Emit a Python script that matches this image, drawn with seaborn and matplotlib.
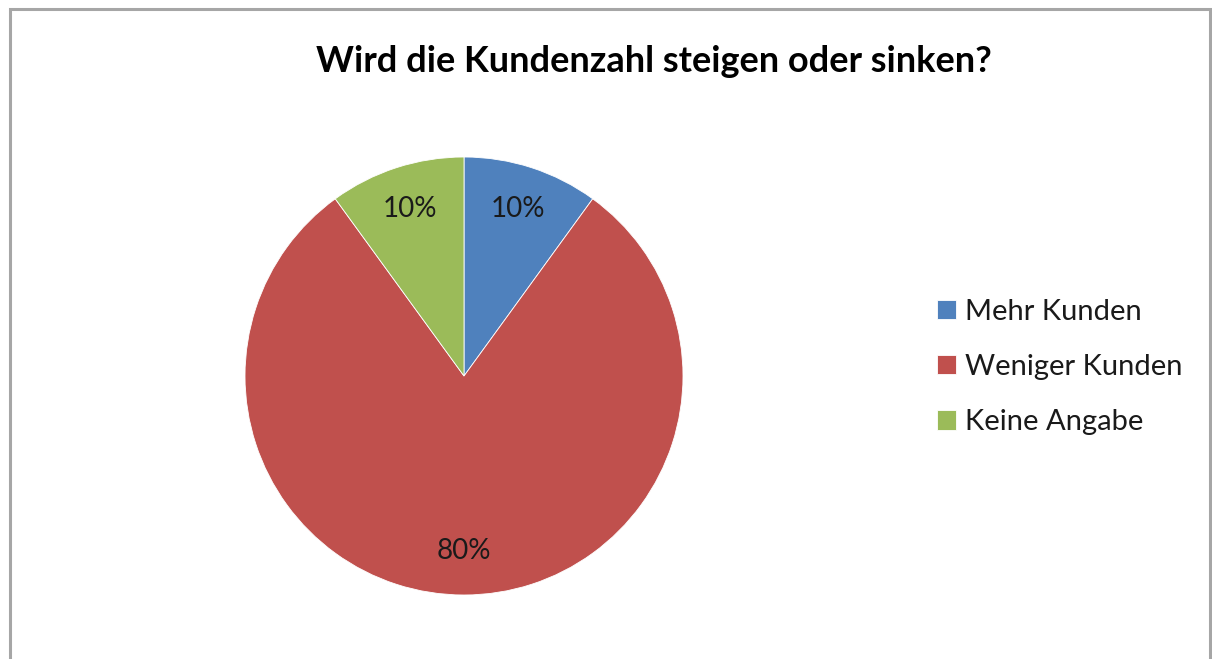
import matplotlib
matplotlib.use("Agg")
import matplotlib.pyplot as plt
import seaborn as sns
from matplotlib.patches import Rectangle

# Daten
kategorien = ["Mehr Kunden", "Weniger Kunden", "Keine Angabe"]
anteile = [10, 80, 10]
farben = ["#4F81BD", "#C0504D", "#9BBB59"]
titel = "Wird die Kundenzahl steigen oder sinken?"

sns.set_theme(style="white")
plt.rcParams["font.family"] = ["Lato", "DejaVu Sans"]

fig = plt.figure(figsize=(12.12, 6.59), dpi=100)
W, H = 1212, 659

# Rahmen des Diagrammbereichs
fig.patches.append(Rectangle((10 / W, -0.05), 1200 / W, 1.05 - 9 / H,
                             transform=fig.transFigure, fill=False,
                             edgecolor="#a6a6a6", linewidth=2.2))

cx, cy, r = 464, 376, 219
ax = fig.add_axes([(cx - r) / W, (H - cy - r) / H, 2 * r / W, 2 * r / H])
wedges, texts, autotexts = ax.pie(
    anteile, colors=farben, startangle=90, counterclock=False,
    autopct="%1.0f%%", pctdistance=0.8, radius=1,
    wedgeprops=dict(edgecolor="white", linewidth=0.6),
    textprops=dict(fontsize=20, color="#1a1a1a"))
ax.set_xlim(-1, 1)
ax.set_ylim(-1, 1)
ax.set_aspect("equal")

fig.text(654 / W, 1 - 61 / H, titel, ha="center", va="center",
         fontsize=26, fontweight="bold", color="black")

fig.legend(wedges, kategorien, loc="center left",
           bbox_to_anchor=(937 / W, 1 - 367 / H), frameon=False,
           fontsize=21, handlelength=0.65, handleheight=0.65,
           handletextpad=0.3, labelspacing=1.0, borderpad=0,
           borderaxespad=0, labelcolor="#1a1a1a")

fig.savefig("out.png", dpi=100)
